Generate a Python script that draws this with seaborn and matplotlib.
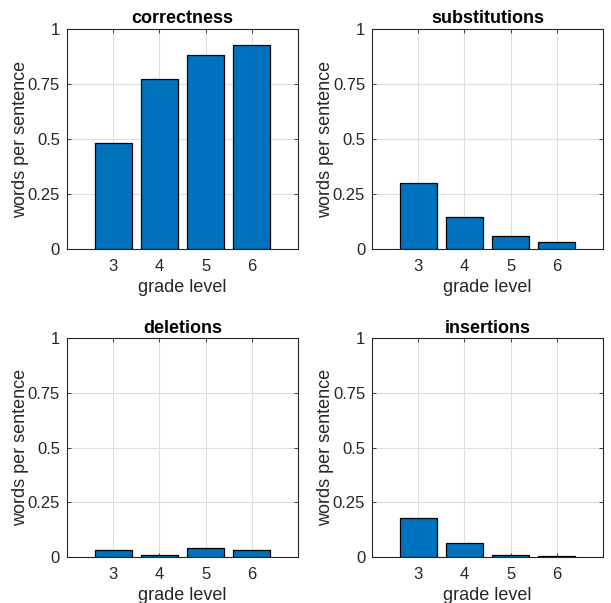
import pandas as pd
import numpy as np
import matplotlib
matplotlib.use("Agg")
import matplotlib.pyplot as plt
import seaborn as sns

# --- data ---
grades = [3, 4, 5, 6]
correctness = [0.48, 0.771, 0.880, 0.927]
substitutions = [0.301, 0.147, 0.060, 0.030]
deletions = [0.030, 0.009, 0.043, 0.032]
insertions = [0.178, 0.062, 0.009, 0.003]
titles = ['correctness', 'substitutions', 'deletions', 'insertions']
yticks = [0, 0.25, 0.5, 0.75, 1]
ytick_labels = ['0', '0.25', '0.5', '0.75', '1']

sns.set_style('white')
plt.rcParams['font.family'] = ['Liberation Sans', 'DejaVu Sans']

fig = plt.figure(figsize=(6.11, 6.03), dpi=100)
# MATLAB-like subplot positions (left, bottom, width, height)
positions = [
    [0.1097, 0.587, 0.378, 0.365],
    [0.609, 0.587, 0.378, 0.365],
    [0.1097, 0.0763, 0.378, 0.363],
    [0.609, 0.0763, 0.378, 0.363],
]
series = [correctness, substitutions, deletions, insertions]

for pos, title, vals in zip(positions, titles, series):
    ax = fig.add_axes(pos)
    df = pd.DataFrame({'grade': grades, 'value': vals})
    sns.barplot(data=df, x='grade', y='value', order=grades, color='#0072BD',
                saturation=1, width=0.8, edgecolor='black', linewidth=0.9,
                ax=ax, zorder=3)
    ax.set_xlim(-1, 4)
    ax.set_ylim(0, 1)
    ax.set_yticks(yticks)
    ax.set_yticklabels(ytick_labels)
    ax.grid(True, color='#dedede', linewidth=0.8, zorder=0)
    ax.set_axisbelow(True)
    for s in ax.spines.values():
        s.set_visible(True)
        s.set_color('#262626')
        s.set_linewidth(0.8)
    ax.tick_params(direction='in', length=3, width=0.6, colors='#262626',
                   labelsize=12, pad=5, top=True, right=True, bottom=True, left=True)
    ax.tick_params(axis='x', pad=7)
    ax.set_xlabel('grade level', fontsize=13, color='#262626', labelpad=4)
    ax.set_ylabel('words per sentence', fontsize=13, color='#262626', labelpad=-1)
    ax.set_title(title, fontsize=13, fontweight='bold', color='black', pad=4)

plt.savefig('out.png', dpi=100)
